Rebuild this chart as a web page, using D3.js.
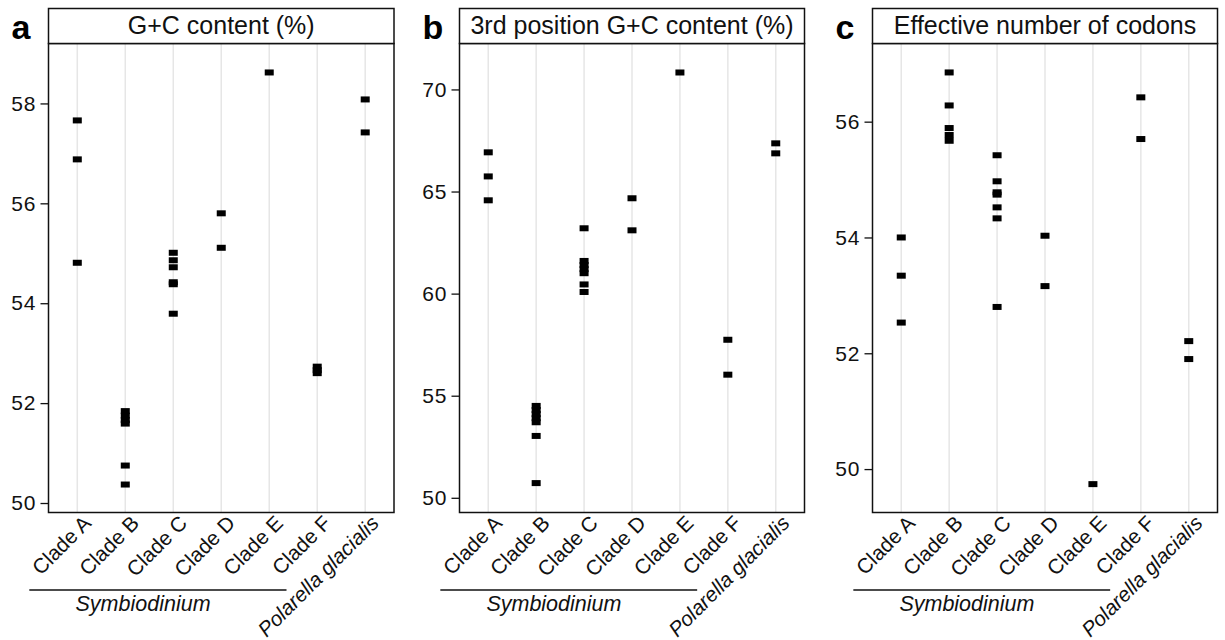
<!DOCTYPE html>
<html>
<head>
<meta charset="utf-8">
<script src="https://cdn.jsdelivr.net/npm/d3@7"></script>
<style>
  body { margin: 0; background: #fff; }
  text { font-family: "Liberation Sans", Arial, sans-serif; }
</style>
</head>
<body>
<svg id="chart" width="1225" height="640"></svg>
<script>
// categories shared by the three panels
const clades = ["Clade A", "Clade B", "Clade C", "Clade D", "Clade E", "Clade F", "Polarella glacialis"];
const symbiodinium = ["Clade A", "Clade B", "Clade C", "Clade D", "Clade E", "Clade F"];

// one list of values per clade (same order as clades)
const gcContent = [
  [57.66, 56.88, 54.81],
  [51.84, 51.75, 51.66, 51.59, 50.75, 50.37],
  [55.01, 54.86, 54.72, 54.42, 54.38, 53.79],
  [55.80, 55.11],
  [58.62],
  [52.73, 52.66, 52.60],
  [58.08, 57.42]
];
const gc3Content = [
  [66.92, 65.74, 64.57],
  [54.50, 54.30, 54.10, 53.90, 53.70, 53.03, 50.72],
  [63.20, 61.60, 61.40, 61.20, 61.00, 60.45, 60.08],
  [64.67, 63.10],
  [70.83],
  [57.74, 56.03],
  [67.36, 66.87]
];
const effCodons = [
  [54.00, 53.34, 52.53],
  [56.85, 56.28, 55.89, 55.77, 55.67],
  [55.42, 54.97, 54.78, 54.74, 54.52, 54.33, 52.80],
  [54.03, 53.16],
  [49.74],
  [56.42, 55.70],
  [52.21, 51.90]
];

const gcTicks = [50, 52, 54, 56, 58];
const gc3Ticks = [50, 55, 60, 65, 70];
const encTicks = [50, 52, 54, 56];

const titles = ["G+C content (%)", "3rd position G+C content (%)", "Effective number of codons"];
const letters = ["a", "b", "c"];

// layout
const stripTop = 8.5, stripBottom = 43.5, plotBottom = 512.5;

const panels = [
  {letter: letters[0], title: titles[0], values: gcContent, ticks: gcTicks, domain: [49.81, 59.2], left: 48.5, right: 394},
  {letter: letters[1], title: titles[1], values: gc3Content, ticks: gc3Ticks, domain: [49.28, 72.25], left: 459.5, right: 804.5},
  {letter: letters[2], title: titles[2], values: effCodons, ticks: encTicks, domain: [49.25, 57.35], left: 872.5, right: 1217.5}
];

const svg = d3.select("#chart");

panels.forEach(p => {
  const g = svg.append("g");

  const x = d3.scalePoint()
    .domain(clades)
    .range([p.left, p.right])
    .padding(0.6);

  const y = d3.scaleLinear()
    .domain(p.domain)
    .range([plotBottom, stripBottom]);

  // vertical grid
  g.selectAll(".grid")
    .data(clades)
    .enter()
    .append("line")
    .attr("x1", d => x(d))
    .attr("x2", d => x(d))
    .attr("y1", stripBottom)
    .attr("y2", plotBottom)
    .attr("stroke", "#e6e6e6")
    .attr("stroke-width", 1.5);

  // points
  const pts = [];
  p.values.forEach((vals, i) => vals.forEach(v => pts.push({clade: clades[i], v: v})));

  g.selectAll(".pt")
    .data(pts)
    .enter()
    .append("rect")
    .attr("x", d => x(d.clade) - 4.5)
    .attr("y", d => y(d.v) - 3)
    .attr("width", 9)
    .attr("height", 6)
    .attr("fill", "#000");

  // panel border and strip
  g.append("rect")
    .attr("x", p.left).attr("y", stripBottom)
    .attr("width", p.right - p.left).attr("height", plotBottom - stripBottom)
    .attr("fill", "none").attr("stroke", "#111").attr("stroke-width", 1.5);

  g.append("rect")
    .attr("x", p.left).attr("y", stripTop)
    .attr("width", p.right - p.left).attr("height", stripBottom - stripTop)
    .attr("fill", "#fff").attr("stroke", "#111").attr("stroke-width", 1.5);

  g.append("text")
    .attr("x", (p.left + p.right) / 2)
    .attr("y", 34)
    .attr("text-anchor", "middle")
    .style("font-size", "25px")
    .attr("fill", "#111")
    .text(p.title);

  g.append("text")
    .attr("x", p.left - 37)
    .attr("y", 39)
    .style("font-size", "34px")
    .style("font-weight", "bold")
    .attr("fill", "#000")
    .text(p.letter);

  // y axis
  const yAxis = d3.axisLeft(y)
    .tickValues(p.ticks)
    .tickSize(8)
    .tickPadding(4);

  const ya = g.append("g")
    .attr("transform", `translate(${p.left},0)`)
    .call(yAxis);
  ya.select(".domain").remove();
  ya.selectAll("line").attr("stroke", "#111").attr("stroke-width", 1.3);
  ya.selectAll("text")
    .style("font-size", "21px")
    .style("letter-spacing", "1px")
    .style("font-family", '"Liberation Sans", Arial, sans-serif')
    .attr("fill", "#111");

  // x labels, rotated
  g.selectAll(".xlab")
    .data(clades)
    .enter()
    .append("text")
    .attr("transform", d => `translate(${x(d) + 15},${plotBottom + 12}) rotate(-45)`)
    .attr("text-anchor", "end")
    .style("font-size", "20.8px")
    .style("font-style", d => d === "Polarella glacialis" ? "italic" : "normal")
    .attr("fill", "#111")
    .text(d => d);

  // Symbiodinium bracket
  const step = x.step();
  const x0 = x(symbiodinium[0]) - step;
  const x1 = x(symbiodinium[symbiodinium.length - 1]) - 0.64 * step;
  g.append("line")
    .attr("x1", x0).attr("x2", x1)
    .attr("y1", 590).attr("y2", 590)
    .attr("stroke", "#111").attr("stroke-width", 1.5);

  g.append("text")
    .attr("x", x(symbiodinium[1]) + 0.37 * step)
    .attr("y", 611)
    .attr("text-anchor", "middle")
    .style("font-size", "21.5px")
    .style("font-style", "italic")
    .attr("fill", "#111")
    .text("Symbiodinium");
});
</script>
</body>
</html>
